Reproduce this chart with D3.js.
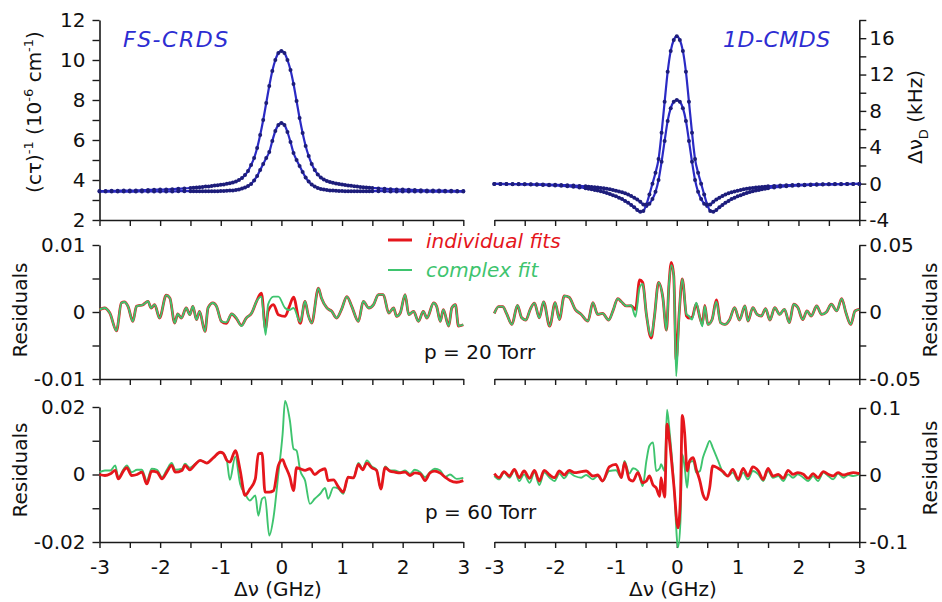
<!DOCTYPE html>
<html><head><meta charset="utf-8">
<script src="https://cdn.jsdelivr.net/npm/d3@7"></script>
<style>html,body{margin:0;padding:0;background:#fff;} svg{display:block;}</style>
</head><body>
<script>
// ---------- DATA ----------
// Top panels: frequency detuning grid (GHz)
const xTop = [-3.0,-2.9,-2.8,-2.7,-2.6,-2.5,-2.4,-2.3,-2.2,-2.1,-2.0,-1.9,-1.8,-1.7,-1.6,
  -1.5,-1.45,-1.4,-1.35,-1.3,-1.25,-1.2,-1.15,-1.1,-1.05,-1.0,-0.95,-0.9,-0.85,-0.8,-0.75,-0.7,-0.65,-0.6,-0.55,-0.5,-0.45,-0.4,-0.35,-0.3,-0.25,-0.2,-0.15,-0.1,-0.05,
  0,
  0.05,0.1,0.15,0.2,0.25,0.3,0.35,0.4,0.45,0.5,0.55,0.6,0.65,0.7,0.75,0.8,0.85,0.9,0.95,1.0,1.05,1.1,1.15,1.2,1.25,1.3,1.35,1.4,1.45,1.5,
  1.6,1.7,1.8,1.9,2.0,2.1,2.2,2.3,2.4,2.5,2.6,2.7,2.8,2.9,3.0];
// FS-CRDS (cτ)^-1, 10^-6 cm^-1 : 60 Torr (tall) and 20 Torr (short)
const crds60 = [3.45,3.45,3.46,3.46,3.47,3.47,3.48,3.49,3.50,3.51,3.52,3.53,3.54,3.56,3.58,
  3.60,3.61,3.62,3.64,3.65,3.67,3.68,3.70,3.72,3.74,3.76,3.78,3.81,3.84,3.88,3.93,4.00,4.10,4.25,4.45,4.75,5.10,5.60,6.25,7.00,7.85,8.70,9.45,10.00,10.35,
  10.45,
  10.35,10.0,9.5,8.8,7.95,7.1,6.35,5.7,5.2,4.8,4.5,4.28,4.12,4.02,3.95,3.9,3.86,3.83,3.8,3.77,3.75,3.73,3.71,3.69,3.67,3.65,3.64,3.62,3.61,3.6,
  3.58,3.56,3.54,3.53,3.52,3.51,3.5,3.49,3.48,3.47,3.47,3.46,3.46,3.45,3.45];
const crds20 = [3.42,3.42,3.42,3.42,3.42,3.42,3.42,3.43,3.43,3.43,3.43,3.43,3.43,3.44,3.44,
  3.44,3.44,3.44,3.44,3.44,3.44,3.44,3.44,3.44,3.44,3.45,3.45,3.46,3.47,3.48,3.50,3.53,3.57,3.62,3.70,3.80,3.98,4.20,4.50,4.80,5.10,5.40,5.95,6.45,6.75,
  6.85,
  6.75,6.4,5.9,5.35,5.0,4.7,4.4,4.12,3.92,3.77,3.67,3.6,3.55,3.52,3.5,3.48,3.47,3.46,3.45,3.45,3.44,3.44,3.44,3.44,3.44,3.44,3.44,3.44,3.44,3.44,
  3.44,3.44,3.43,3.43,3.43,3.43,3.43,3.43,3.42,3.42,3.42,3.42,3.42,3.42,3.42];
// 1D-CMDS Δν_D (kHz)
const cmds60 = [-0.03,-0.04,-0.05,-0.06,-0.07,-0.08,-0.10,-0.12,-0.14,-0.17,-0.20,-0.24,-0.29,-0.35,-0.42,
  -0.51,-0.56,-0.62,-0.69,-0.76,-0.84,-0.93,-1.03,-1.15,-1.27,-1.40,-1.55,-1.70,-1.90,-2.10,-2.35,-2.60,-2.90,-3.10,-3.00,-2.30,-1.20,0.00,1.20,2.70,5.60,9.00,12.30,14.60,15.80,
  16.2,
  15.8,14.6,12.3,9.0,5.6,2.7,1.2,0.0,-1.2,-2.3,-3.0,-3.1,-2.9,-2.6,-2.35,-2.1,-1.9,-1.7,-1.55,-1.4,-1.27,-1.15,-1.03,-0.93,-0.84,-0.76,-0.69,-0.62,-0.56,-0.51,
  -0.42,-0.35,-0.29,-0.24,-0.2,-0.17,-0.14,-0.12,-0.1,-0.08,-0.07,-0.06,-0.05,-0.04,-0.03];
const cmds20 = [-0.03,-0.03,-0.04,-0.04,-0.05,-0.06,-0.07,-0.08,-0.09,-0.11,-0.13,-0.15,-0.18,-0.21,-0.25,
  -0.30,-0.33,-0.36,-0.39,-0.43,-0.47,-0.52,-0.57,-0.63,-0.70,-0.77,-0.86,-0.96,-1.07,-1.20,-1.35,-1.55,-1.75,-2.00,-2.30,-2.45,-2.20,-1.70,-0.90,0.40,2.40,4.70,6.90,8.30,9.00,
  9.2,
  9.0,8.3,6.9,4.7,2.4,0.4,-0.9,-1.7,-2.2,-2.45,-2.3,-2.0,-1.75,-1.55,-1.35,-1.2,-1.07,-0.96,-0.86,-0.77,-0.7,-0.63,-0.57,-0.52,-0.47,-0.43,-0.39,-0.36,-0.33,-0.3,
  -0.25,-0.21,-0.18,-0.15,-0.13,-0.11,-0.09,-0.08,-0.07,-0.06,-0.05,-0.04,-0.04,-0.03,-0.03];

// Residuals (values in units of 1e-3)
// p = 20 Torr, FS-CRDS
const resCrds20X = [-3.00,-2.92,-2.83,-2.72,-2.64,-2.59,-2.53,-2.45,-2.39,-2.28,-2.20,-2.15,-2.09,-2.01,-1.90,-1.84,-1.76,-1.71,-1.65,-1.57,
  -1.51,-1.46,-1.40,-1.35,-1.26,-1.21,-1.13,-1.07,-0.99,-0.91,-0.82,-0.74,-0.66,-0.58,-0.49,-0.41,-0.33,-0.26,-0.22,-0.13,
  -0.05,0.06,0.13,0.20,0.31,0.39,0.44,0.50,0.61,0.66,0.75,0.83,0.91,0.99,1.08,1.16,1.27,1.35,1.44,1.52,
  1.60,1.68,1.77,1.85,1.90,1.96,2.04,2.10,2.18,2.26,2.34,2.40,2.51,2.56,2.62,2.67,2.76,2.81,2.87,2.92,3.00];
const resCrds20Ind = [0.35,0.6,-0.15,-2.8,1.35,1.5,0.85,-1.4,0.85,1.1,1.6,0.6,1.1,-0.9,2.5,2.1,-1.65,-0.3,-0.9,0.6,
  -0.4,0.85,-1.15,0.1,-2.9,0.6,1.35,0.85,-1.4,-1.7,-0.3,-1.0,-2.0,-0.9,-0.15,1.6,2.8,-2.6,0.1,1.1,
  -0.4,-0.65,0.8,2.2,-1.7,1.6,-0.4,-1.65,3.55,2.1,0.6,0.1,-0.9,0.35,2.3,0.85,-1.4,1.6,0.6,1.1,
  2.6,2.6,-0.15,0.6,-0.65,-0.15,2.6,-0.4,0.1,-1.4,0.1,-0.9,1.35,0.85,-1.4,0.35,-2.1,0.6,1.1,-2.1,-1.9];
const resCrds20Cpx = [0.35,0.6,-0.15,-2.8,1.35,1.5,0.85,-1.4,0.85,1.1,1.6,0.6,1.1,-0.9,2.5,2.1,-1.65,-0.3,-0.9,0.6,
  -0.4,0.85,-1.15,0.1,-2.9,0.6,1.35,0.85,-1.4,-1.55,-0.3,-0.9,-2.1,-0.9,-0.15,1.6,2.3,-3.4,1.1,2.3,
  2.3,0.6,0.3,0.6,-1.5,1.6,-0.4,-1.65,3.55,2.1,0.6,0.1,-0.9,0.35,2.3,0.85,-1.4,1.6,0.6,1.1,
  2.6,2.6,-0.15,0.6,-0.65,-0.15,2.6,-0.4,0.1,-1.4,0.1,-0.9,1.35,0.85,-1.4,0.35,-2.1,0.6,1.1,-2.1,-1.9];
// p = 20 Torr, 1D-CMDS
const resCmds20X = [-3.00,-2.93,-2.86,-2.80,-2.71,-2.62,-2.55,-2.48,-2.41,-2.34,-2.26,-2.19,-2.09,-2.00,-1.93,-1.85,-1.77,-1.67,-1.57,-1.46,
  -1.38,-1.30,-1.22,-1.12,-1.05,-0.97,-0.91,-0.83,-0.75,-0.68,-0.61,-0.56,-0.50,-0.42,-0.37,-0.30,-0.23,-0.17,-0.13,-0.09,
  -0.05,-0.01,0.04,0.09,0.16,0.20,0.25,0.32,0.38,0.42,0.46,0.51,0.58,0.65,0.72,0.79,0.87,0.95,1.03,1.12,
  1.17,1.25,1.32,1.39,1.46,1.53,1.61,1.69,1.77,1.85,1.92,1.99,2.07,2.14,2.21,2.30,2.38,2.46,2.54,2.63,
  2.71,2.78,2.86,2.93,3.00];
const resCmds20Ind = [-1,4,4,-1,-9.3,5,-4.3,-6,2,6.6,-4.3,7.6,-10.6,7,-5.6,12,11,2,-1.8,-6.8,
  7,-1.8,-1,-6,0.8,10,7.6,4.5,4.5,2,24,22,-1.8,-19.4,-4.3,22,11,-13.6,19.7,37,
  27,-36,-0.5,24.7,-3,-4.5,-4,6,-4.3,-9,5,-9.3,-5.6,9,-8,-9.3,-5.6,3.3,-6,4.5,
  -6.8,3.3,-1.8,-3,2.5,-6,3.3,-1.8,2,-8,5.8,3.3,-5.6,0.8,-3,4.5,-1.8,0,5.8,0.8,
  10,-0.5,-9.3,0.8,2];
const resCmds20Cpx = [-1,4,4,-1,-9.3,5,-4.3,-6,2,6.6,-4.3,7.6,-10.6,7,-5.6,12,11,2,-1.8,-6.8,
  7,-1.8,-1,-6,0.8,10,7.6,4.5,5,-3.5,18.4,21,-1.8,-18,-4.3,22,11,-13.6,19.7,35,
  27,-48,-0.5,24.7,-1.8,-3,-5.6,7,-4.3,-10.6,4.5,-9.3,-5.6,7.6,-8,-9.3,-5.6,3.3,-6,4.5,
  -6.8,3.3,-1.8,-3,2.5,-6,3.3,-1.8,2,-8,5.8,3.3,-5.6,0.8,-3,4.5,-1.8,0,5.8,0.8,
  10,-0.5,-9.3,0.8,2];
// p = 60 Torr, FS-CRDS
const resCrds60X = [-3.00,-2.91,-2.82,-2.74,-2.69,-2.60,-2.55,-2.47,-2.38,-2.30,-2.22,-2.14,-2.05,-1.97,-1.89,-1.81,-1.75,-1.64,-1.59,-1.51,
  -1.42,-1.34,-1.23,-1.12,-1.01,-0.96,-0.90,-0.85,-0.76,-0.68,-0.60,-0.52,-0.43,-0.38,-0.32,-0.27,-0.20,-0.13,-0.05,0.02,
  0.06,0.14,0.20,0.25,0.31,0.39,0.47,0.55,0.64,0.72,0.77,0.86,0.94,1.02,1.10,1.19,1.27,1.34,1.41,1.49,
  1.57,1.64,1.71,1.79,1.87,1.96,2.04,2.12,2.20,2.29,2.37,2.45,2.53,2.62,2.70,2.78,2.89,3.00];
const resCrds60Ind = [0,-0.3,0.2,1.2,-1.3,1.2,2.0,-0.3,0,0.7,-2.8,1.0,0.7,-1.3,0.7,2.7,0.7,1.2,2.7,1.4,
  3.0,4.2,3.4,5.0,6.6,6.3,4.2,3.7,7.1,1.2,-6.2,-4.3,-1.3,6.1,6.3,-5.2,-5.2,-4.8,2.7,4.4,
  2.7,-0.8,-4.8,2.0,1.7,1.2,1.7,0,1.2,1.7,-1.8,-1.6,-3.7,-5.2,-0.8,-1.0,3.0,1.4,3.4,2.0,
  1.2,-4.3,2.0,1.0,0.7,0.5,0.7,-0.3,0.5,0.2,-1.8,0.5,1.0,0.4,-0.8,-1.8,-2.3,-1.8];
const resCrds60Cpx = [0.7,1.2,1.2,2.7,-0.8,1.7,2.7,0.7,1.4,1.4,-1.8,1.7,1.4,-0.8,1.4,3.4,1.4,1.7,3.2,2.0,
  3.2,4.2,3.4,5.0,6.6,6.3,4.2,-1.6,5.3,-2.8,-5.7,-7.7,-6.2,-12.2,-7.2,-6.7,-18.1,-12.7,0.2,12,
  21.8,16,7.6,7.1,1.2,-1.8,-8.7,-7.2,-5.7,-4.0,-7.2,-3.8,-4.2,-5.7,-0.8,-1.0,3.4,1.7,4.2,2.4,
  1.4,-4.3,2.4,1.2,1.2,0.7,1.2,0.2,1.4,0.7,-0.8,0.7,1.7,1.2,-0.8,0,-1.3,-1.0];
// p = 60 Torr, 1D-CMDS
const resCmds60X = [-3.00,-2.92,-2.84,-2.75,-2.67,-2.59,-2.51,-2.42,-2.34,-2.26,-2.18,-2.09,-2.01,-1.93,-1.85,-1.77,-1.68,-1.57,-1.49,-1.38,
  -1.30,-1.22,-1.11,-1.00,-0.91,-0.86,-0.78,-0.72,-0.64,-0.56,-0.50,-0.45,-0.39,-0.34,-0.28,-0.26,-0.20,-0.16,-0.12,-0.05,
  0.02,0.06,0.09,0.13,0.17,0.21,0.27,0.32,0.38,0.43,0.49,0.54,0.59,0.68,0.76,0.84,0.92,1.01,1.09,1.17,
  1.25,1.34,1.42,1.50,1.58,1.67,1.75,1.83,1.91,1.99,2.08,2.16,2.24,2.32,2.41,2.49,2.57,2.65,2.74,2.82,
  2.90,3.00];
const resCmds60Ind = [2,-4,5,-1.5,8.5,-4,6,-5,7,-9,7,0,-4,6,0,7,3.5,5,6,-1.5,
  0,-9,12,16,-4,18.6,-6.5,-9,3.5,-11.6,-9,-1.5,-15,-19,-31.7,-4,-33,76,51,-14,
  -79,-34,89,61,6,21,26,8.5,-9,-29,-36.7,-19,13.6,10,5,-1.5,8.5,-6.5,10,-1.5,
  12,6,-6.5,10,-1.5,1,-5,7,1,3.5,1,-5,2,-4,5,1,-1.5,3.5,0,2,
  3.5,2];
const resCmds60Cpx = [-1.5,-6.5,3.5,-4,7,-9,1,-11.6,3.5,-15,3.5,-4,-9,2,-5,3.5,-1.5,-4,0,-6.5,
  -1.5,-9,6,7,-4,21,2,10,6,-16.6,21,43.7,48.7,6,10,16,6,97.5,66,-9,
  -108,-69,31,11,-19,18.6,21,3.5,6,26,41,51,41,21,3.5,-1.5,3.5,-9,3.5,-6.5,
  6,1,-9,6,-4,-1.5,-9,1,-4,1,-4,-9,-1.5,-9,3.5,-1.5,-6.5,2,-4,0,
  -1.5,1];

// Tick values
const xTickVals = [-3,-2.5,-2,-1.5,-1,-0.5,0,0.5,1,1.5,2,2.5,3];
const yTicksCrds = [2,3,4,5,6,7,8,9,10,11,12];
const yLabelsCrds = [2,4,6,8,10,12];
const yTicksCmds = [-4,-2,0,2,4,6,8,10,12,14,16,18];
const yLabelsCmds = [-4,0,4,8,12,16];
const yTicksRes20L = [-10,-5,0,5,10], yLabelsRes20L = [-10,0,10];
const yTicksRes20R = [-50,-25,0,25,50], yLabelsRes20R = [-50,0,50];
const yTicksRes60L = [-20,-10,0,10,20], yLabelsRes60L = [-20,0,20];
const yTicksRes60R = [-100,-50,0,50,100], yLabelsRes60R = [-100,0,100];

// ---------- DRAWING ----------
const FONT = "'DejaVu Sans', 'Liberation Sans', sans-serif";
const svg = d3.select('body').append('svg').attr('width', 942).attr('height', 602);
svg.append('rect').attr('width', 942).attr('height', 602).attr('fill', '#fff');

const xL = d3.scaleLinear().domain([-3, 3]).range([99.5, 463.3]);
const xR = d3.scaleLinear().domain([-3, 3]).range([494.3, 859.3]);
const yTopL = d3.scaleLinear().domain([2, 12]).range([220, 20]);
const yTopR = d3.scaleLinear().domain([-4, 18]).range([220, 20]);
const yMidL = d3.scaleLinear().domain([-10, 10]).range([379, 245]);
const yMidR = d3.scaleLinear().domain([-50, 50]).range([379, 245]);
const yBotL = d3.scaleLinear().domain([-20, 20]).range([542, 407]);
const yBotR = d3.scaleLinear().domain([-100, 100]).range([542, 408]);

function fmtNum(v) { const s = +v.toFixed(6); return s < 0 ? '-' + Math.abs(s) : String(s); }
function styleAxis(g) {
  g.attr('font-family', FONT).attr('font-size', 20);
  g.select('.domain').attr('stroke', '#1a1a1a').attr('stroke-width', 1.6);
  g.selectAll('.tick line').attr('stroke', '#1a1a1a').attr('stroke-width', 1.4);
  g.selectAll('.tick text').attr('fill', '#111');
}
function xAxis(scale, y, labels) {
  const g = svg.append('g').attr('transform', `translate(0,${y})`)
    .call(d3.axisBottom(scale).tickValues(xTickVals).tickSize(6).tickSizeOuter(0).tickPadding(12)
      .tickFormat(d => (labels && Number.isInteger(d)) ? fmtNum(d) : ''));
  styleAxis(g);
}
function yAxis(scale, x, side, ticks, labels, mult) {
  const a = (side === 'left' ? d3.axisLeft(scale) : d3.axisRight(scale))
    .tickValues(ticks).tickSize(7).tickSizeOuter(0).tickPadding(side === 'left' ? 7 : 3)
    .tickFormat(d => labels.includes(d) ? fmtNum(d * mult) : '');
  const g = svg.append('g').attr('transform', `translate(${x},0)`).call(a);
  styleAxis(g);
}

// axes
xAxis(xL, 220, false); xAxis(xR, 220, false);
xAxis(xL, 379, false); xAxis(xR, 379, false);
xAxis(xL, 542, true);  xAxis(xR, 542, true);
yAxis(yTopL, 99.5, 'left', yTicksCrds, yLabelsCrds, 1);
yAxis(yTopR, 859.3, 'right', yTicksCmds, yLabelsCmds, 1);
yAxis(yMidL, 99.5, 'left', yTicksRes20L, yLabelsRes20L, 0.001);
yAxis(yMidR, 859.3, 'right', yTicksRes20R, yLabelsRes20R, 0.001);
yAxis(yBotL, 99.5, 'left', yTicksRes60L, yLabelsRes60L, 0.001);
yAxis(yBotR, 859.3, 'right', yTicksRes60R, yLabelsRes60R, 0.001);

// profiles with markers
function profile(xs, ys, sx, sy) {
  const pts = xs.map((x, i) => [x, ys[i]]);
  svg.append('path').datum(pts)
    .attr('d', d3.line().curve(d3.curveMonotoneX).x(d => sx(d[0])).y(d => sy(d[1])))
    .attr('fill', 'none').attr('stroke', '#2a2ac4').attr('stroke-width', 2.2);
  svg.append('g').selectAll('circle').data(pts).join('circle')
    .attr('cx', d => sx(d[0])).attr('cy', d => sy(d[1])).attr('r', 2)
    .attr('fill', '#1d1d7a');
}
profile(xTop, crds20, xL, yTopL);
profile(xTop, crds60, xL, yTopL);
profile(xTop, cmds20, xR, yTopR);
profile(xTop, cmds60, xR, yTopR);

// residuals
const RED = '#e5161c', GREEN = '#3ec46e';
function resid(xs, ys, sx, sy, color, w) {
  const pts = xs.map((x, i) => [x, ys[i]]);
  svg.append('path').datum(pts)
    .attr('d', d3.line().curve(d3.curveMonotoneX).x(d => sx(d[0])).y(d => sy(d[1])))
    .attr('fill', 'none').attr('stroke', color).attr('stroke-width', w)
    .attr('stroke-linejoin', 'round');
}
resid(resCrds20X, resCrds20Ind, xL, yMidL, RED, 2.8);
resid(resCrds20X, resCrds20Cpx, xL, yMidL, GREEN, 1.9);
resid(resCmds20X, resCmds20Ind, xR, yMidR, RED, 2.8);
resid(resCmds20X, resCmds20Cpx, xR, yMidR, GREEN, 1.9);
resid(resCrds60X, resCrds60Cpx, xL, yBotL, GREEN, 1.9);
resid(resCrds60X, resCrds60Ind, xL, yBotL, RED, 2.8);
resid(resCmds60X, resCmds60Cpx, xR, yBotR, GREEN, 1.9);
resid(resCmds60X, resCmds60Ind, xR, yBotR, RED, 2.8);

// ---------- TEXT ----------
function txt(x, y, s, opts = {}) {
  return svg.append('text').attr('x', x).attr('y', y).text(s)
    .attr('font-family', FONT).attr('font-size', opts.size || 20)
    .attr('fill', opts.fill || '#111')
    .attr('font-style', opts.italic ? 'italic' : 'normal')
    .attr('letter-spacing', opts.ls || 0)
    .attr('text-anchor', opts.anchor || 'start');
}
txt(123, 47, 'FS-CRDS', { size: 22, italic: true, fill: '#2d2dd2', ls: 1.5 });
txt(723, 47, '1D-CMDS', { size: 22, italic: true, fill: '#2d2dd2', ls: 0.5 });

// legend
svg.append('line').attr('x1', 388).attr('x2', 412).attr('y1', 240).attr('y2', 240).attr('stroke', RED).attr('stroke-width', 3);
svg.append('line').attr('x1', 388).attr('x2', 412).attr('y1', 270).attr('y2', 270).attr('stroke', GREEN).attr('stroke-width', 2);
txt(426, 248, 'individual fits', { italic: true, fill: RED });
txt(426, 277, 'complex fit', { italic: true, fill: GREEN });

txt(424, 359, 'p = 20 Torr');
txt(425, 519, 'p = 60 Torr');

txt(278, 596, 'Δν (GHz)', { anchor: 'middle' });
txt(673, 596, 'Δν (GHz)', { anchor: 'middle' });

function vtxt(x, y, s) {
  return svg.append('text').attr('transform', `translate(${x},${y}) rotate(-90)`)
    .attr('text-anchor', 'middle').attr('font-family', FONT).attr('font-size', 20).attr('fill', '#111').text(s);
}
vtxt(27, 310, 'Residuals');
vtxt(27, 470, 'Residuals');
vtxt(937, 310, 'Residuals');
vtxt(937, 468, 'Residuals');

// y title top-left with superscripts
const tl = svg.append('text').attr('transform', 'translate(41,112) rotate(-90)')
  .attr('text-anchor', 'middle').attr('font-family', FONT).attr('font-size', 20).attr('fill', '#111');
tl.append('tspan').text('(cτ)');
tl.append('tspan').attr('dy', -8).attr('font-size', 13).text('-1');
tl.append('tspan').attr('dy', 8).text(' (10');
tl.append('tspan').attr('dy', -8).attr('font-size', 13).text('-6');
tl.append('tspan').attr('dy', 8).text(' cm');
tl.append('tspan').attr('dy', -8).attr('font-size', 13).text('-1');
tl.append('tspan').attr('dy', 8).text(')');

// y title top-right with subscript
const tr = svg.append('text').attr('transform', 'translate(922,117) rotate(-90)')
  .attr('text-anchor', 'middle').attr('font-family', FONT).attr('font-size', 20).attr('fill', '#111');
tr.append('tspan').text('Δν');
tr.append('tspan').attr('dy', 6).attr('font-size', 13).text('D');
tr.append('tspan').attr('dy', -6).text(' (kHz)');
</script></body></html>
